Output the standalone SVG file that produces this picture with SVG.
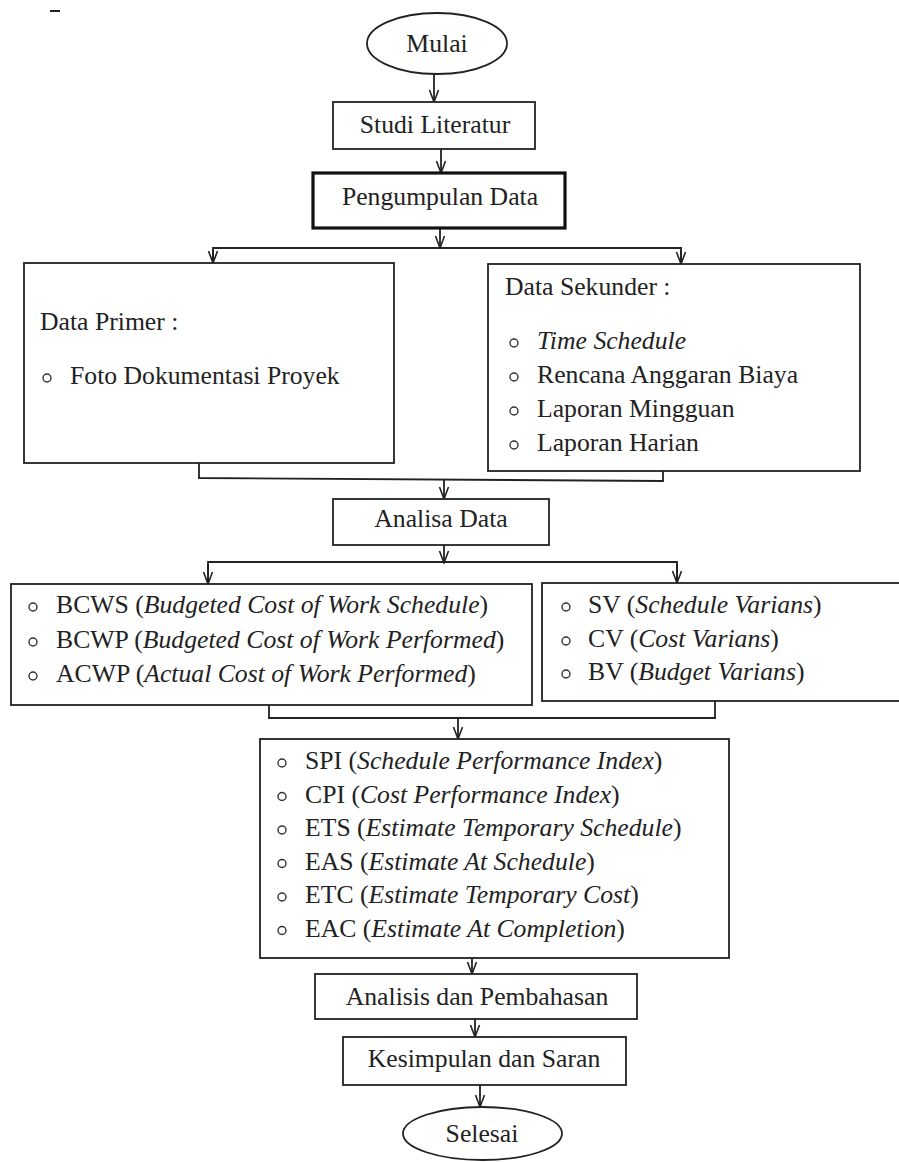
<svg xmlns="http://www.w3.org/2000/svg" width="899" height="1162" viewBox="0 0 899 1162">
<defs>
<style>
.box{fill:#fff;stroke:#222;stroke-width:1.8}
.thick{fill:#fff;stroke:#111;stroke-width:3.2}
.t{font-family:'Liberation Serif','Times New Roman',serif;font-size:25.7px;fill:#222}
.c{text-anchor:middle}
.i{font-style:italic}
.b{fill:none;stroke:#333;stroke-width:1.4}
.ln{fill:none;stroke:#222;stroke-width:1.8}
</style>
<marker id="ah" viewBox="0 0 14 12" refX="13" refY="6" markerWidth="14" markerHeight="12" markerUnits="userSpaceOnUse" orient="auto">
<polyline points="1,1.5 13,6 1,10.5" fill="none" stroke="#222" stroke-width="1.6"/>
</marker>
</defs>
<rect width="899" height="1162" fill="#fff"/>
<line x1="50" y1="11" x2="60" y2="11" stroke="#222" stroke-width="2"/>

<g id="connectors">
<line class="ln" x1="434" y1="74" x2="434" y2="102" marker-end="url(#ah)"/>
<line class="ln" x1="441" y1="149" x2="441" y2="173" marker-end="url(#ah)"/>
<line class="ln" x1="440" y1="228" x2="440" y2="248" marker-end="url(#ah)"/>
<polyline class="ln" points="213,263 213,248 681,248 681,264"/>
<line class="ln" x1="213" y1="250" x2="213" y2="263" marker-end="url(#ah)"/>
<line class="ln" x1="681" y1="250" x2="681" y2="264" marker-end="url(#ah)"/>
<polyline class="ln" points="199,463 199,478 663,481 663,471"/>
<line class="ln" x1="444" y1="479" x2="444" y2="499" marker-end="url(#ah)"/>
<line class="ln" x1="444" y1="545" x2="444" y2="563" marker-end="url(#ah)"/>
<polyline class="ln" points="208,584 208,562 677,562 677,583"/>
<line class="ln" x1="208" y1="564" x2="208" y2="584" marker-end="url(#ah)"/>
<line class="ln" x1="677" y1="564" x2="677" y2="583" marker-end="url(#ah)"/>
<polyline class="ln" points="269,705 269,718 715,718 715,701"/>
<line class="ln" x1="458" y1="718" x2="458" y2="739" marker-end="url(#ah)"/>
<line class="ln" x1="472" y1="958" x2="472" y2="974" marker-end="url(#ah)"/>
<line class="ln" x1="475" y1="1019" x2="475" y2="1037" marker-end="url(#ah)"/>
<line class="ln" x1="480" y1="1085" x2="480" y2="1107" marker-end="url(#ah)"/>
</g>

<g id="mulai">
<ellipse class="box" cx="437" cy="43.5" rx="70" ry="30.5"/>
<text class="t c" x="437" y="52">Mulai</text>
</g>
<g id="studi">
<rect class="box" x="333" y="102" width="202" height="47"/>
<text class="t c" x="435" y="133">Studi Literatur</text>
</g>
<g id="pengumpulan">
<rect class="thick" x="313" y="173" width="252" height="55"/>
<text class="t c" x="440" y="205">Pengumpulan Data</text>
</g>
<g id="primer">
<rect class="box" x="24" y="263" width="370" height="200"/>
<text class="t" x="40" y="330">Data Primer :</text>
<circle class="b" cx="47" cy="378" r="4"/>
<text class="t" x="70" y="384">Foto Dokumentasi Proyek</text>
</g>
<g id="sekunder">
<rect class="box" x="488" y="264" width="372" height="207"/>
<text class="t" x="505" y="295">Data Sekunder :</text>
<circle class="b" cx="514" cy="343" r="4"/>
<text class="t i" x="537" y="349">Time Schedule</text>
<circle class="b" cx="514" cy="377" r="4"/>
<text class="t" x="537" y="383">Rencana Anggaran Biaya</text>
<circle class="b" cx="514" cy="411" r="4"/>
<text class="t" x="537" y="417">Laporan Mingguan</text>
<circle class="b" cx="514" cy="445" r="4"/>
<text class="t" x="537" y="451">Laporan Harian</text>
</g>
<g id="analisa">
<rect class="box" x="333" y="499" width="216" height="46"/>
<text class="t c" x="441" y="527">Analisa Data</text>
</g>
<g id="bcws">
<rect class="box" x="11" y="584" width="521" height="121"/>
<circle class="b" cx="33" cy="607" r="4"/>
<text class="t" x="56" y="613">BCWS (<tspan class="i">Budgeted Cost of Work Schedule</tspan>)</text>
<circle class="b" cx="33" cy="642" r="4"/>
<text class="t" x="56" y="648">BCWP (<tspan class="i">Budgeted Cost of Work Performed</tspan>)</text>
<circle class="b" cx="33" cy="676" r="4"/>
<text class="t" x="56" y="682">ACWP (<tspan class="i">Actual Cost of Work Performed</tspan>)</text>
</g>
<g id="sv">
<rect class="box" x="542" y="583" width="362" height="118"/>
<circle class="b" cx="566" cy="607" r="4"/>
<text class="t" x="588" y="613">SV (<tspan class="i">Schedule Varians</tspan>)</text>
<circle class="b" cx="566" cy="641" r="4"/>
<text class="t" x="588" y="647">CV (<tspan class="i">Cost Varians</tspan>)</text>
<circle class="b" cx="566" cy="674" r="4"/>
<text class="t" x="588" y="680">BV (<tspan class="i">Budget Varians</tspan>)</text>
</g>
<g id="indeks">
<rect class="box" x="260" y="739" width="469" height="219"/>
<circle class="b" cx="282" cy="763" r="4"/>
<text class="t" x="305" y="769">SPI (<tspan class="i">Schedule Performance Index</tspan>)</text>
<circle class="b" cx="282" cy="796.5" r="4"/>
<text class="t" x="305" y="802.5">CPI (<tspan class="i">Cost Performance Index</tspan>)</text>
<circle class="b" cx="282" cy="830" r="4"/>
<text class="t" x="305" y="836">ETS (<tspan class="i">Estimate Temporary Schedule</tspan>)</text>
<circle class="b" cx="282" cy="863.5" r="4"/>
<text class="t" x="305" y="869.5">EAS (<tspan class="i">Estimate At Schedule</tspan>)</text>
<circle class="b" cx="282" cy="897" r="4"/>
<text class="t" x="305" y="903">ETC (<tspan class="i">Estimate Temporary Cost</tspan>)</text>
<circle class="b" cx="282" cy="930.5" r="4"/>
<text class="t" x="305" y="936.5">EAC (<tspan class="i">Estimate At Completion</tspan>)</text>
</g>
<g id="analisis">
<rect class="box" x="315" y="974" width="322" height="45"/>
<text class="t c" x="477" y="1005">Analisis dan Pembahasan</text>
</g>
<g id="kesimpulan">
<rect class="box" x="343" y="1037" width="283" height="48"/>
<text class="t c" x="484" y="1067">Kesimpulan dan Saran</text>
</g>
<g id="selesai">
<ellipse class="box" cx="482.5" cy="1133.5" rx="79.5" ry="26.5"/>
<text class="t c" x="482" y="1142">Selesai</text>
</g>
</svg>
